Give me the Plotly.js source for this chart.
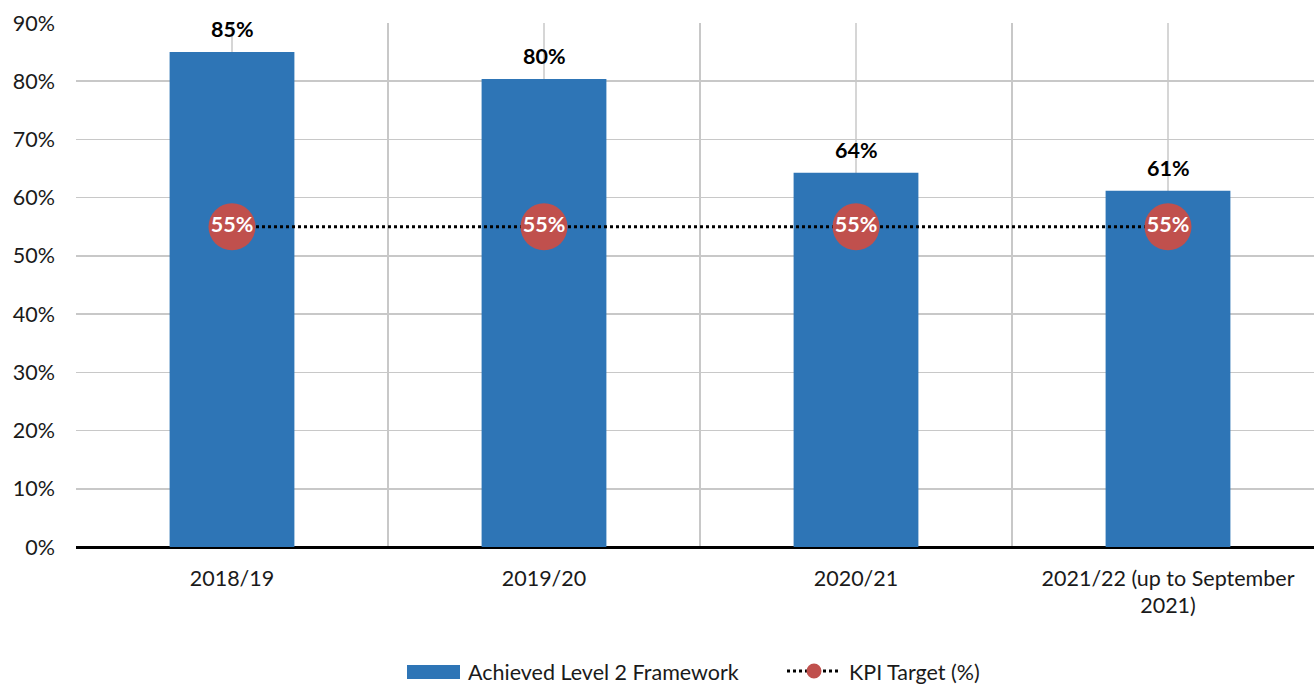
<!DOCTYPE html>
<html>
<head>
<meta charset="utf-8">
<script src="https://cdn.plot.ly/plotly-3.0.1.min.js"></script>
<style>
  html, body { margin: 0; padding: 0; overflow: hidden; background: #fff; }
  #chart { width: 1324px; height: 686px; }
</style>
</head>
<body>
<div id="chart"></div>
<script>
const categories = ['2018/19', '2019/20', '2020/21', '2021/22 (up to September 2021)'];
const tickLabels = ['2018/19', '2019/20', '2020/21', '2021/22 (up to September<br>2021)'];
const achieved = [85.0, 80.4, 64.3, 61.2];
const kpiTarget = [55, 55, 55, 55];
const yTickVals = [0, 10, 20, 30, 40, 50, 60, 70, 80, 90];
const yTickText = ['0%', '10%', '20%', '30%', '40%', '50%', '60%', '70%', '80%', '90%'];
const seriesNames = ['Achieved Level 2 Framework', 'KPI Target (%)'];

const FONT = 'Lato, "Open Sans", sans-serif';
const FS = 21.5;
const BLUE = '#2E75B6';
const RED = '#C0504D';

// plot-area geometry (pixels) for the hand-drawn legend
const L = 76, T = 23, W = 1248, H = 524;
const px = v => (v - L) / W;
const py = v => (T + H - v) / H;
const LEG_Y = 672;

const barTrace = {
  type: 'bar',
  name: seriesNames[0],
  x: categories,
  y: achieved,
  width: 0.4,
  marker: { color: BLUE },
  showlegend: false,
  hoverinfo: 'skip'
};

const kpiTrace = {
  type: 'scatter',
  mode: 'lines+markers+text',
  name: seriesNames[1],
  x: categories,
  y: kpiTarget,
  line: { color: '#000', width: 3, dash: 'dot' },
  marker: { color: RED, size: 47 },
  text: kpiTarget.map(v => '<b>' + v + '%</b>'),
  textposition: 'middle center',
  textfont: { family: FONT, size: FS, color: '#fff' },
  cliponaxis: false,
  showlegend: false,
  hoverinfo: 'skip'
};

const barLabels = categories.map((c, i) => ({
  x: c, y: achieved[i], xref: 'x', yref: 'y',
  text: '<b>' + Math.round(achieved[i]) + '%</b>',
  showarrow: false, yanchor: 'bottom', yshift: 8,
  font: { family: FONT, size: FS, color: '#000' }
}));

const legendAnn = [
  { x: px(466), y: py(LEG_Y), xref: 'paper', yref: 'paper', xanchor: 'left', yanchor: 'middle',
    text: seriesNames[0], showarrow: false, font: { family: FONT, size: FS, color: '#1a1a1a' } },
  { x: px(847), y: py(LEG_Y), xref: 'paper', yref: 'paper', xanchor: 'left', yanchor: 'middle',
    text: seriesNames[1], showarrow: false, font: { family: FONT, size: FS, color: '#1a1a1a' } }
];

const centerLines = categories.map(c => ({
  type: 'line', xref: 'x', yref: 'paper', x0: c, x1: c, y0: 0, y1: 1,
  line: { color: '#C8C8C8', width: 1.5 }, layer: 'below'
}));

const legendShapes = [
  { type: 'rect', xref: 'paper', yref: 'paper', x0: px(407), x1: px(460), y0: py(LEG_Y + 7), y1: py(LEG_Y - 7),
    fillcolor: BLUE, line: { width: 0 } },
  { type: 'line', xref: 'paper', yref: 'paper', x0: px(787), x1: px(841), y0: py(LEG_Y - 1), y1: py(LEG_Y - 1),
    line: { color: '#000', width: 3, dash: 'dot' } },
  { type: 'circle', xref: 'paper', yref: 'paper', x0: px(806.5), x1: px(821.5), y0: py(LEG_Y + 6.5), y1: py(LEG_Y - 8.5),
    fillcolor: RED, line: { width: 0 } }
];

const layout = {
  width: 1324,
  height: 686,
  margin: { l: L, r: 1324 - L - W, t: T, b: 686 - T - H },
  paper_bgcolor: '#fff',
  plot_bgcolor: '#fff',
  font: { family: FONT, color: '#1a1a1a' },
  showlegend: false,
  xaxis: {
    type: 'category',
    tickvals: categories,
    ticktext: tickLabels,
    tickson: 'boundaries',
    showgrid: true,
    gridcolor: '#C8C8C8',
    gridwidth: 1.5,
    ticks: '',
    ticklabelstandoff: 16,
    tickfont: { family: FONT, size: FS, color: '#1a1a1a' },
    showline: false,
    zeroline: false,
    automargin: false,
    fixedrange: true
  },
  yaxis: {
    range: [0, 90],
    tickvals: yTickVals,
    ticktext: yTickText,
    showgrid: true,
    gridcolor: '#C8C8C8',
    gridwidth: 1.5,
    zeroline: true,
    zerolinecolor: '#000',
    zerolinewidth: 3,
    ticks: '',
    ticklabelstandoff: 20,
    tickfont: { family: FONT, size: FS, color: '#1a1a1a' },
    showline: false,
    automargin: false,
    fixedrange: true
  },
  shapes: centerLines.concat(legendShapes),
  annotations: barLabels.concat(legendAnn)
};

Plotly.newPlot('chart', [barTrace, kpiTrace], layout, { displayModeBar: false, staticPlot: true });
</script>
</body>
</html>
